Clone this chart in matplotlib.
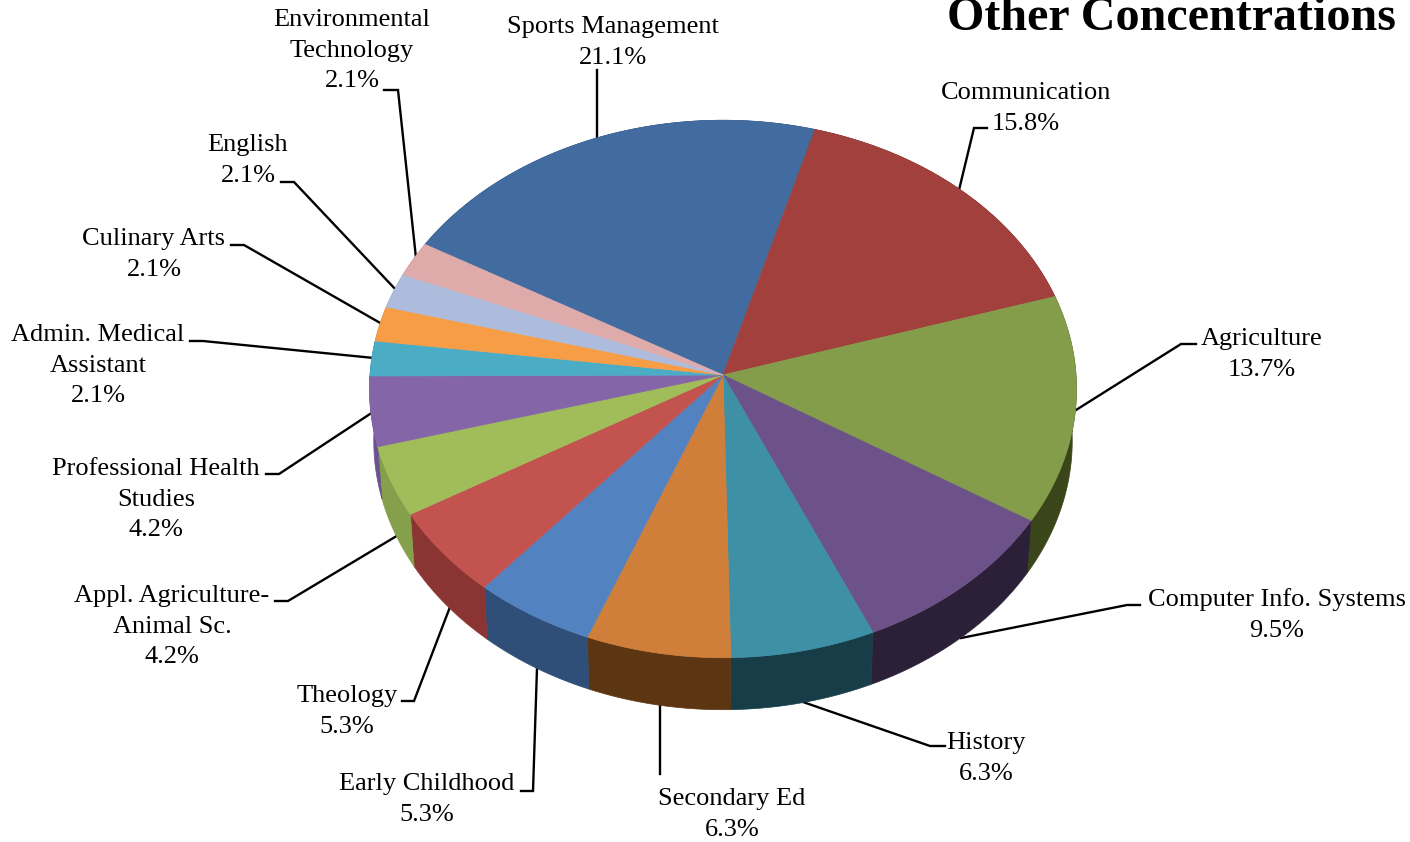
import numpy as np
import matplotlib
matplotlib.use('Agg')
import matplotlib.pyplot as plt
from matplotlib.patches import Polygon

plt.rcParams['font.family'] = ['Liberation Serif', 'DejaVu Serif']

# slices, clockwise starting at Sports Management
names = ['Sports Management', 'Communication', 'Agriculture', 'Computer Info. Systems',
         'History', 'Secondary Ed', 'Early Childhood', 'Theology',
         'Appl. Agriculture-\nAnimal Sc.', 'Professional Health\nStudies',
         'Admin. Medical\nAssistant', 'Culinary Arts', 'English', 'Environmental\nTechnology']
values = [21.1, 15.8, 13.7, 9.5, 6.3, 6.3, 5.3, 5.3, 4.2, 4.2, 2.1, 2.1, 2.1, 2.1]
title = 'Other Concentrations'

top_colors = ['#426ca0', '#a2403d', '#839d4a', '#6d5289', '#3d90a6', '#cf7f3a', '#5282bf',
              '#c3534f', '#a1bd5a', '#8466a8', '#4bacc6', '#f79d46', '#adbcdc', '#deabaa']
wall_colors = ['#2a4468', '#6a2a28', '#3a4519', '#2c2038', '#173d48', '#5c3513', '#2f4f78',
               '#8a3533', '#84a04a', '#6c5290', '#35798c', '#b06f30', '#7a859c', '#9c7877']

# label anchor (pixels) for each slice, same order as names
label_x = [613, 1026, 1262, 1277, 986, 732, 427, 347, 172, 156, 98, 154, 248, 352]
label_y = [27, 93, 339, 600, 743, 799, 784, 696, 596, 469, 335, 239, 145, 20]

# leader lines, same order
leaders = [
    [(597, 70), (597, 138)],
    [(987, 128), (974, 128), (959, 190)],
    [(1196, 344), (1181, 344), (1076, 410)],
    [(1140, 605), (1127, 605), (961, 638)],
    [(945, 746), (930, 746), (803, 702)],
    [(660, 774), (660, 705)],
    [(521, 791), (533, 791), (537, 668)],
    [(402, 701), (414, 701), (450, 607)],
    [(275, 601), (288, 601), (400, 534)],
    [(266, 474), (279, 474), (373, 412)],
    [(190, 341), (203, 341), (374, 358)],
    [(231, 245), (244, 245), (382, 324)],
    [(281, 182), (294, 182), (397, 291)],
    [(384, 90), (398, 90), (416, 258)],
]

fig = plt.figure(figsize=(14.1, 8.42), dpi=100)
ax = fig.add_axes([0, 0, 1, 1])
ax.set_xlim(0, 1410)
ax.set_ylim(842, 0)
ax.axis('off')

# perspective disc
cx, cy = 723, 375
a, b, k = 353, 268, 0.052
depth = 52


def rim(t, drop=0, shrink=1.0):
    w = 1 + k * np.cos(t)
    return np.column_stack([cx + shrink * a * np.sin(t) / w, cy + drop - b * np.cos(t) / w])


edges = np.radians(-60 + np.cumsum([0] + values) / sum(values) * 360)

# walls first, the tops then hide the back of them
for i in range(len(values)):
    t = np.linspace(edges[i], edges[i + 1], 80)
    pts = np.vstack([rim(t), rim(t, depth, 0.988)[::-1]])
    ax.add_patch(Polygon(pts, closed=True, fc=wall_colors[i], ec=wall_colors[i], lw=0.5, zorder=2))

for i in range(len(values)):
    t = np.linspace(edges[i], edges[i + 1], 80)
    pts = np.vstack([[cx, cy], rim(t)])
    ax.add_patch(Polygon(pts, closed=True, fc=top_colors[i], ec=top_colors[i], lw=0.5, zorder=3))

for line in leaders:
    xs, ys = zip(*line)
    ax.plot(xs, ys, color='black', lw=1.7, solid_joinstyle='miter', zorder=1)

for i in range(len(values)):
    lines = names[i].split('\n') + ['%.1f%%' % values[i]]
    for j, s in enumerate(lines):
        ax.text(label_x[i], label_y[i] + j * 30.6, s, ha='center', va='center',
                fontsize=19, color='black', zorder=4)

ax.text(1396, 30, title, ha='right', va='baseline', fontsize=34.6, fontweight='bold', color='black')

fig.savefig('out.png', dpi=100)
